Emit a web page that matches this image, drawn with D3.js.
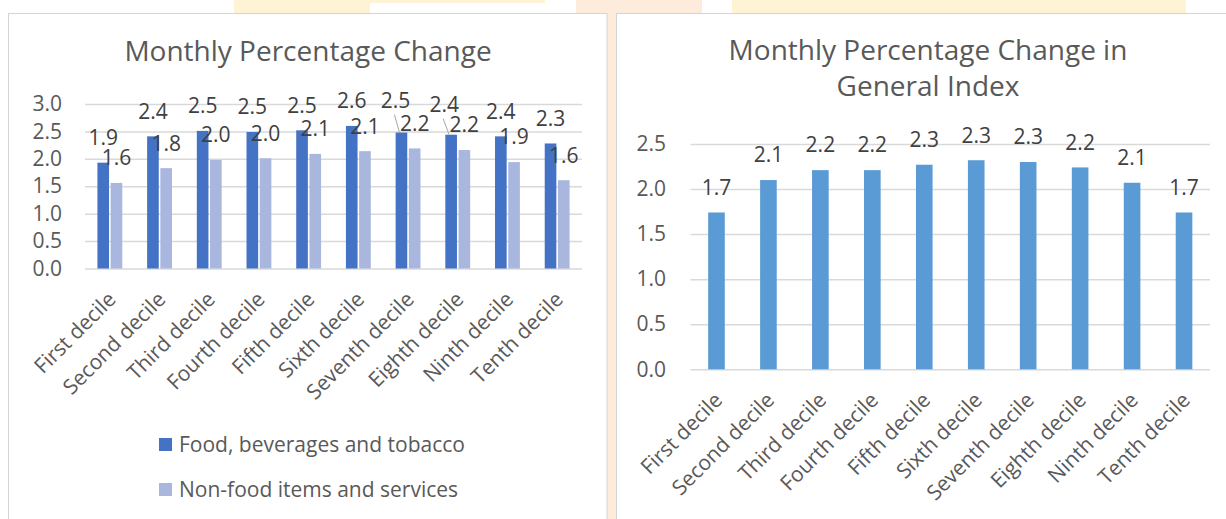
<!DOCTYPE html>
<html>
<head>
<meta charset="utf-8">
<script src="https://cdn.jsdelivr.net/npm/d3@7"></script>
<style>
  html, body { margin: 0; padding: 0; background: #ffffff; }
  svg { display: block; font-family: "Open Sans", sans-serif; }
</style>
</head>
<body>
<svg id="chart" width="1226" height="519"></svg>
<script>
// Deciles shared by both charts
const categories = ["First decile", "Second decile", "Third decile", "Fourth decile", "Fifth decile",
    "Sixth decile", "Seventh decile", "Eighth decile", "Ninth decile", "Tenth decile"];

// Left chart: two series
const seriesNames = ["Food, beverages and tobacco", "Non-food items and services"];
const foodValues = [1.93, 2.41, 2.51, 2.49, 2.52, 2.60, 2.48, 2.44, 2.41, 2.28];
const nonFoodValues = [1.56, 1.83, 1.98, 2.01, 2.09, 2.14, 2.19, 2.16, 1.94, 1.61];
const leftTicks = [0, 0.5, 1.0, 1.5, 2.0, 2.5, 3.0];

// Right chart: general index
const generalValues = [1.74, 2.10, 2.21, 2.21, 2.27, 2.32, 2.30, 2.24, 2.07, 1.74];
const rightTicks = [0, 0.5, 1.0, 1.5, 2.0, 2.5];

const textColor = "#595959";
const gridColor = "#d9d9d9";
const colors = ["#4472c4", "#a9b7de"];
const generalColor = "#5b9bd5";
const fmt = d3.format(".1f");
const fontSize = "21px";

const svg = d3.select("#chart");

// page background behind the two chart boxes
const bg = svg.append("g");
bg.append("rect").attr("x", 234).attr("y", 0).attr("width", 136).attr("height", 14).attr("fill", "#fff3d6");
bg.append("rect").attr("x", 370).attr("y", 0).attr("width", 175).attr("height", 3).attr("fill", "#fff3d6");
bg.append("rect").attr("x", 576).attr("y", 0).attr("width", 126).attr("height", 14).attr("fill", "#fdebdc");
bg.append("rect").attr("x", 607).attr("y", 0).attr("width", 10).attr("height", 519).attr("fill", "#fdebdc");
bg.append("rect").attr("x", 732).attr("y", 0).attr("width", 454).attr("height", 14).attr("fill", "#fff3d6");

// chart boxes
svg.append("rect").attr("x", 8.5).attr("y", 13.5).attr("width", 598.5).attr("height", 520)
    .attr("fill", "#fff").attr("stroke", "#d4d4d4");
svg.append("rect").attr("x", 616.5).attr("y", 13.5).attr("width", 620).attr("height", 520)
    .attr("fill", "#fff").attr("stroke", "#d4d4d4");

function drawYAxis(g, y, ticks, x0, x1, labelX) {
    const axis = g.append("g").attr("transform", `translate(${x0},0)`)
        .call(d3.axisLeft(y).tickValues(ticks).tickFormat(fmt).tickSize(0).tickPadding(x0 - labelX));
    axis.select(".domain").remove();
    axis.selectAll("text").attr("fill", textColor).style("font-size", fontSize).style("font-family", "Open Sans");
    axis.selectAll(".tick").append("line")
        .attr("x1", 0).attr("x2", x1 - x0)
        .attr("stroke", gridColor).attr("stroke-width", 1.5);
}

function drawXLabels(g, x, yBase) {
    g.append("g").selectAll("text")
        .data(categories)
        .join("text")
        .attr("transform", d => `translate(${x(d) + x.bandwidth() / 2 + 2},${yBase + 27}) rotate(-45)`)
        .attr("text-anchor", "end")
        .attr("dy", "0.35em")
        .attr("fill", textColor)
        .style("font-size", fontSize)
        .text(d => d);
}

// ---------- Left chart ----------
const left = svg.append("g");
left.append("text")
    .attr("x", 308).attr("y", 61)
    .attr("text-anchor", "middle")
    .attr("fill", textColor)
    .style("font-size", "28px")
    .text("Monthly Percentage Change");

const yL = d3.scaleLinear().domain([0, 3]).range([268.5, 104]);
const xL = d3.scaleBand().domain(categories).range([85, 582]).paddingInner(0.5).paddingOuter(0.25);
const xS = d3.scaleBand().domain([0, 1]).range([0, xL.bandwidth()]).paddingInner(0.12);

drawYAxis(left, yL, leftTicks, 85, 582, 62);

const leftSeries = [foodValues, nonFoodValues];
// labels that Excel pushed aside, drawn with a leader line
const labelNudge = { "0-6": [-6, -7], "0-7": [-7, -5] };

leftSeries.forEach((vals, s) => {
    left.append("g").selectAll("rect")
        .data(vals)
        .join("rect")
        .attr("x", (d, i) => xL(categories[i]) + xS(s))
        .attr("width", xS.bandwidth())
        .attr("y", d => yL(d))
        .attr("height", d => yL(0) - yL(d))
        .attr("fill", colors[s]);
});

leftSeries.forEach((vals, s) => {
    vals.forEach((v, i) => {
        const cx = xL(categories[i]) + xS(s) + xS.bandwidth() / 2;
        const n = labelNudge[`${s}-${i}`] || [0, 0];
        const ly = yL(v) - 25 + n[1];
        if (labelNudge[`${s}-${i}`]) {
            left.append("line")
                .attr("x1", cx + n[0] - 1).attr("y1", ly + 14)
                .attr("x2", cx - 2).attr("y2", yL(v))
                .attr("stroke", "#a6a6a6").attr("stroke-width", 1);
        }
        left.append("text")
            .attr("x", cx + n[0]).attr("y", ly)
            .attr("dy", "0.35em")
            .attr("text-anchor", "middle")
            .attr("fill", "#404040")
            .style("font-size", fontSize)
            .text(fmt(v));
    });
});

drawXLabels(left, xL, 268.5);

// legend
const legend = left.append("g").selectAll("g")
    .data(seriesNames)
    .join("g")
    .attr("transform", (d, i) => `translate(159,${438 + i * 45})`);
legend.append("rect").attr("width", 13).attr("height", 13).attr("fill", (d, i) => colors[i]);
legend.append("text")
    .attr("x", 20).attr("y", 7).attr("dy", "0.35em")
    .attr("fill", textColor)
    .style("font-size", fontSize)
    .text(d => d);

// ---------- Right chart ----------
const right = svg.append("g");
const title2 = right.append("text")
    .attr("x", 928).attr("y", 60)
    .attr("text-anchor", "middle")
    .attr("fill", textColor)
    .style("font-size", "28px");
title2.append("tspan").attr("x", 928).text("Monthly Percentage Change in");
title2.append("tspan").attr("x", 928).attr("dy", 36).text("General Index");

const yR = d3.scaleLinear().domain([0, 2.5]).range([369.3, 144]);
const xR = d3.scaleBand().domain(categories).range([690.5, 1210]).paddingInner(0.68).paddingOuter(0.34);

drawYAxis(right, yR, rightTicks, 690.5, 1210, 666);

right.append("g").selectAll("rect")
    .data(generalValues)
    .join("rect")
    .attr("x", (d, i) => xR(categories[i]))
    .attr("width", xR.bandwidth())
    .attr("y", d => yR(d))
    .attr("height", d => yR(0) - yR(d))
    .attr("fill", generalColor);

right.append("g").selectAll("text")
    .data(generalValues)
    .join("text")
    .attr("x", (d, i) => xR(categories[i]) + xR.bandwidth() / 2)
    .attr("y", d => yR(d) - 25)
    .attr("dy", "0.35em")
    .attr("text-anchor", "middle")
    .attr("fill", "#404040")
    .style("font-size", fontSize)
    .text(d => fmt(d));

drawXLabels(right, xR, 369.3);
</script>
</body>
</html>
